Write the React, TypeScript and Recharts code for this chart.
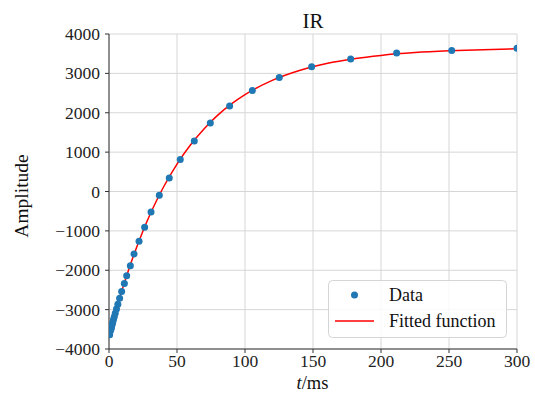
import React from 'react';
import { ComposedChart, Scatter, Line, XAxis, YAxis, CartesianGrid } from 'recharts';

const FONT = '"Liberation Serif", "Times New Roman", serif';

// Measured data (t in ms, amplitude)
const tData = [0.5, 1.1, 1.35, 1.6, 1.9, 2.3, 2.7, 3.3, 3.9, 4.6, 5.5, 6.5, 7.8, 9.3, 11.3, 13.0, 15.7, 18.4, 22.1, 26.2, 30.9, 37.0, 44.3, 52.4, 62.7, 74.5, 88.7, 105.4, 125.2, 149, 177.7, 211.5, 252, 300];
const ampData = [-3640, -3533, -3502, -3470, -3431, -3380, -3329, -3253, -3178, -3092, -2982, -2863, -2711, -2540, -2334, -2138, -1883, -1585, -1263, -906, -523, -97, 344, 814, 1281, 1740, 2173, 2564, 2895, 3168, 3365, 3518, 3584, 3640];

// Fitted curve
const tFit = [0, 5, 10, 15, 20, 25, 30, 35, 40, 50, 60, 70, 80, 90, 100, 120, 140, 160, 180, 200, 225, 250, 275, 300];
const ampFit = [-3680, -3041, -2461, -1930, -1445, -1002, -598, -229, 108, 697, 1187, 1596, 1939, 2223, 2460, 2823, 3075, 3250, 3372, 3457, 3528, 3572, 3601, 3625];

const xTicks = [0, 50, 100, 150, 200, 250, 300];
const yTicks = [-4000, -3000, -2000, -1000, 0, 1000, 2000, 3000, 4000];

const fmt = (v: number) => (v < 0 ? '\u2212' + Math.abs(v) : String(v));

const Dot = (props: any) => {
  const { cx, cy } = props;
  if (cx == null || cy == null) return null;
  return <circle cx={cx} cy={cy} r={3.5} fill="#1f77b4" />;
};

const txtStyle = { fontFamily: FONT, fontSize: '17.5px' };

const XTick = (props: any) => {
  const { x, y, payload } = props;
  return (
    <text x={x} y={y + 12.5} textAnchor="middle" style={txtStyle} fill="#222">
      {fmt(payload.value)}
    </text>
  );
};

const YTick = (props: any) => {
  const { x, y, payload } = props;
  return (
    <text x={x} y={y + 6} textAnchor="end" style={txtStyle} fill="#222">
      {fmt(payload.value)}
    </text>
  );
};

export default function App() {
  const dataPoints = tData.map((t, i) => ({ t, amp: ampData[i] }));
  const fitPoints = tFit.map((t, i) => ({ t, amp: ampFit[i] }));
  return (
    <div style={{ position: 'absolute', left: 0, top: 0, width: 535, height: 394, background: '#fff', fontFamily: FONT }}>
      <ComposedChart width={535} height={394} margin={{ top: 34, right: 18, bottom: 0, left: 0 }} style={{ fontFamily: FONT }}>
        <CartesianGrid stroke="#d6d6d6" strokeWidth={1} />
        <XAxis
          type="number"
          dataKey="t"
          domain={[0, 300]}
          ticks={xTicks}
          allowDataOverflow
          tick={XTick}
          tickSize={4}
          tickMargin={1}
          height={45}
          stroke="#333"
          tickLine={{ stroke: '#333' }}
          axisLine={{ stroke: '#333' }}
        />
        <XAxis
          xAxisId="top"
          orientation="top"
          type="number"
          domain={[0, 300]}
          ticks={xTicks}
          tick={false}
          tickLine={false}
          height={0}
          axisLine={{ stroke: '#333' }}
        />
        <YAxis
          type="number"
          dataKey="amp"
          domain={[-4000, 4000]}
          ticks={yTicks}
          allowDataOverflow
          tick={YTick}
          tickSize={4}
          tickMargin={5}
          width={109}
          stroke="#333"
          tickLine={{ stroke: '#333' }}
          axisLine={{ stroke: '#333' }}
        />
        <YAxis
          yAxisId="right"
          orientation="right"
          type="number"
          domain={[-4000, 4000]}
          tick={false}
          tickLine={false}
          width={0}
          axisLine={{ stroke: '#333' }}
        />
        <Scatter data={dataPoints} dataKey="amp" shape={<Dot />} isAnimationActive={false} />
        <Line
          data={fitPoints}
          dataKey="amp"
          type="monotone"
          stroke="#ff0000"
          strokeWidth={1.5}
          dot={false}
          activeDot={false}
          isAnimationActive={false}
        />
      </ComposedChart>
      <svg
        width={535}
        height={394}
        style={{ position: 'absolute', left: 0, top: 0, pointerEvents: 'none', fontFamily: FONT }}
      >
        <text x={313} y={28} textAnchor="middle" fontSize={21} fill="#111">IR</text>
        <text x={312.5} y={389} textAnchor="middle" fontSize={18.5} fill="#111">
          <tspan fontStyle="italic">t</tspan>/ms
        </text>
        <text
          x={0}
          y={0}
          transform="translate(28,196) rotate(-90)"
          textAnchor="middle"
          fontSize={19.5}
          fill="#111"
        >
          Amplitude
        </text>
        <rect x={328.5} y={280.5} width={178} height={57} rx={4} fill="rgba(255,255,255,0.85)" stroke="#d5d5d5" />
        <circle cx={354.5} cy={295} r={3.5} fill="#1f77b4" />
        <text x={389} y={301} fontSize={18} fill="#111">Data</text>
        <line x1={335} y1={321} x2={374} y2={321} stroke="#ff0000" strokeWidth={1.5} />
        <text x={389} y={327} fontSize={18} fill="#111">Fitted function</text>
      </svg>
    </div>
  );
}
